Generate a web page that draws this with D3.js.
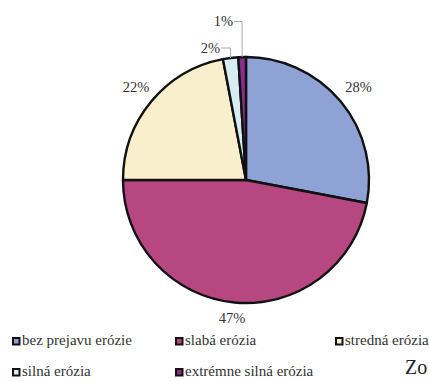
<!DOCTYPE html>
<html><head><meta charset="utf-8">
<script src="https://cdn.jsdelivr.net/npm/d3@7/dist/d3.min.js"></script>
<style>body{margin:0;background:#fff}svg{display:block}
text{font-family:"Liberation Serif","Times New Roman",serif}</style>
</head><body><svg id="c" width="429" height="381"></svg>
<script>
const categories = ["bez prejavu erózie","slabá erózia","stredná erózia","silná erózia","extrémne silná erózia"];
const values = [28,47,22,2,1];
const labels = ["28%","47%","22%","2%","1%"];
const colors = ["#8fa2d6","#b64781","#f9efcd","#d6eef2","#8b2b8a"];

const svg = d3.select("#c");
const cx = 246, cy = 180, r = 123;
const pie = d3.pie().sort(null).value(d=>d)(values);
const arc = d3.arc().innerRadius(0).outerRadius(r);
const g = svg.append("g").attr("transform",`translate(${cx},${cy})`);
g.selectAll("path").data(pie).join("path")
  .attr("d",arc).attr("fill",(d,i)=>colors[i])
  .attr("stroke","#111").attr("stroke-width",2.4).attr("stroke-linejoin","round");

const bigPos = [[358.5,92],[232,323],[136,92]];
pie.forEach((d,i)=>{
  if(i<3){
    g.append("text").attr("x",bigPos[i][0]-cx).attr("y",bigPos[i][1]-cy).attr("text-anchor","middle")
      .attr("font-size",14.5).attr("fill","#333").text(labels[i]);
  }
});
const small = [{i:3, tx:220, ty:53, ly:48}, {i:4, tx:233, ty:26, ly:21.5}];
small.forEach(s=>{
  const d = pie[s.i];
  const a = (d.startAngle+d.endAngle)/2;
  const px = Math.sin(a)*r, py = -Math.cos(a)*r;
  g.append("path").attr("d",`M${s.tx+1-cx},${s.ly-cy}H${px}V${py}`)
    .attr("fill","none").attr("stroke","#aaa").attr("stroke-width",1);
  g.append("text").attr("x",s.tx-cx).attr("y",s.ty-cy).attr("text-anchor","end")
    .attr("font-size",14.5).attr("fill","#333").text(labels[s.i]);
});

const legPos = [[12,345],[175,345],[335,345],[12,376],[175,376]];
categories.forEach((c,i)=>{
  const [x,y] = legPos[i];
  svg.append("rect").attr("x",x+1).attr("y",y-7).attr("width",6.5).attr("height",6.5)
    .attr("fill",colors[i]).attr("stroke","#111").attr("stroke-width",2);
  svg.append("text").attr("x",x+10).attr("y",y)
    .attr("font-size",15).attr("fill","#333").text(c);
});
svg.append("text").attr("x",405).attr("y",374)
  .attr("font-size",20).attr("fill","#222").text("Zo");
</script></body></html>
